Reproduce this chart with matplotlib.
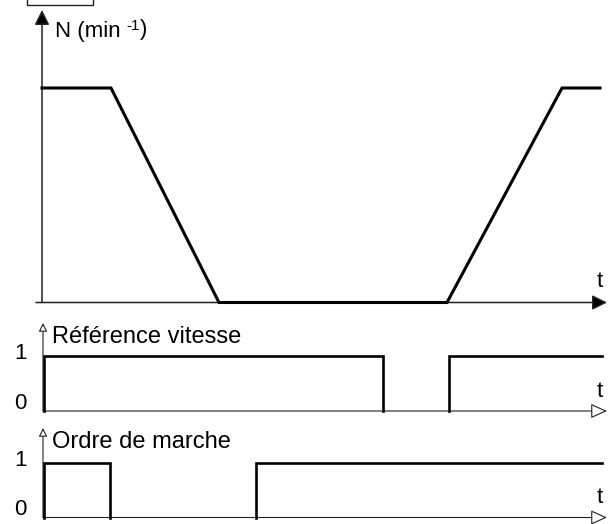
"""Timing diagram: motor speed N, speed reference and run command versus time."""

import matplotlib
matplotlib.use("Agg")
import matplotlib.pyplot as plt
from matplotlib.patches import Rectangle

plt.rcParams["font.family"] = ["Liberation Sans", "DejaVu Sans"]

# speed profile (time in arbitrary units, speed normalised)
t_speed = [0, 69, 177, 405, 520, 558]
n_speed = [1, 1, 0, 0, 1, 1]

# speed reference signal
t_ref = [2, 2, 341, 341, 407, 407, 560]
v_ref = [0, 1, 1, 0, 0, 1, 1]

# run command signal
t_run = [2, 2, 68, 68, 214, 214, 560]
v_run = [0, 1, 1, 0, 0, 1, 1]

labels = ["Référence vitesse", "Ordre de marche"]
levels = ["0", "1"]

W, H = 611, 524
X0 = 42  # pixel column of t = 0


def add_panel(top_px, bottom_px, y0_px, y1_px):
    """Axes spanning the full width; value 0 at row y0_px, value 1 at row y1_px."""
    ax = fig.add_axes([0, 1 - bottom_px / H, 1, (bottom_px - top_px) / H])
    scale = y0_px - y1_px
    ax.set_ylim((y0_px - bottom_px) / scale, (y0_px - top_px) / scale)
    ax.set_xlim(-X0, W - X0)
    ax.axis("off")
    return ax, scale


def arrow(ax, start, tip, style, lw, fc):
    ax.annotate("", xy=tip, xytext=start,
                arrowprops=dict(arrowstyle=style, lw=lw, ec="#222222", fc=fc,
                                shrinkA=0, shrinkB=0, mutation_scale=10),
                annotation_clip=False)


def high_runs(t, v):
    """Split a logic signal into polylines, leaving out the parts lying on 0."""
    runs, cur = [], []
    for i in range(len(t) - 1):
        if v[i] == 0 and v[i + 1] == 0:
            if cur:
                runs.append(cur)
            cur = []
            continue
        if not cur:
            cur = [(t[i], v[i])]
        cur.append((t[i + 1], v[i + 1]))
    if cur:
        runs.append(cur)
    return runs


fig = plt.figure(figsize=(W / 100, H / 100), dpi=100)

# --- speed panel ---
ax1, s1 = add_panel(0, 312, 302.5, 88)
arrow(ax1, (-6, 0), (565, 0), "-|>,head_length=0.9,head_width=0.45", 1.1, "black")
arrow(ax1, (0, 0), (0, (302.5 - 10) / s1), "-|>,head_length=0.9,head_width=0.45", 1.1, "black")
ax1.plot(t_speed, n_speed, color="black", lw=2.2, solid_joinstyle="miter", zorder=3)
ax1.add_patch(Rectangle((-15, (302.5 - 4.7) / s1), 66, 0.2, fill=False,
                        lw=1.0, ec="#222222", clip_on=False))
lab = ax1.text(13, (302.5 - 37) / s1, "N (min ", fontsize=16, va="baseline")
sup = ax1.annotate("-1", xy=(1, 0.45), xycoords=lab, fontsize=11, va="bottom")
ax1.annotate(")", xy=(1, 0), xycoords=sup, xytext=(0, -5.5), textcoords="offset points",
             fontsize=16, va="bottom")
ax1.text(558, (302.5 - 287) / s1, "t", fontsize=16, ha="center", va="baseline")

# --- reference and run command panels ---
panels = [
    (t_ref, v_ref, labels[0], (315, 420, 411, 356), 323, 343, 397),
    (t_run, v_run, labels[1], (422, 524, 517.5, 463), 428, 448, 503),
]
for t, v, label, rows, tip_px, lab_px, t_px in panels:
    ax, s = add_panel(*rows)
    y0 = rows[2]
    arrow(ax, (1, 0), (565, 0), "-|>,head_length=1.0,head_width=0.45", 0.8, "white")
    arrow(ax, (1, 0), (1, (y0 - tip_px) / s), "-|>,head_length=0.5,head_width=0.25", 0.8, "white")
    for run in high_runs(t, v):
        xs, ys = zip(*run)
        ax.plot(xs, ys, color="black", lw=1.9, solid_joinstyle="miter", zorder=3)
    ax.text(10, (y0 - lab_px) / s, label, fontsize=17, va="baseline")
    ax.text(558, (y0 - t_px) / s, "t", fontsize=16, ha="center", va="baseline")
    for val, lev in enumerate(levels):
        ax.text(-22, val + (0.14 if val == 0 else 0.05), lev, fontsize=16,
                ha="center", va="center")

fig.savefig("out.png", dpi=100)
plt.close(fig)
